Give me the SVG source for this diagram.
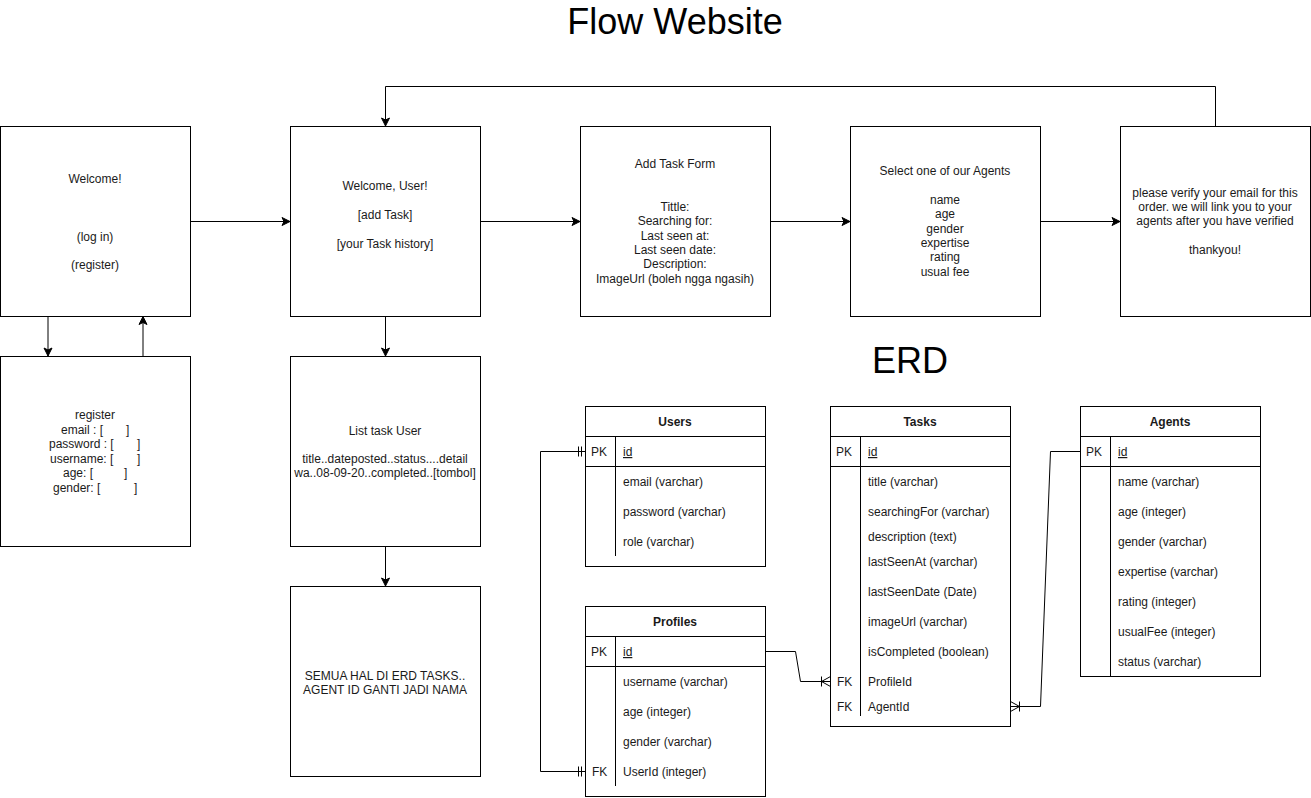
<svg xmlns="http://www.w3.org/2000/svg" width="1311" height="798" viewBox="0 0 1311 798">
<style>
text{font-family:"Liberation Sans",Arial,Helvetica,sans-serif;font-size:12px;fill:#1a1a1a}
.c{text-anchor:middle}
.t{font-size:36px;fill:#000}
.b{font-weight:bold}
.u{text-decoration:underline}
.box{fill:#fff;stroke:#000;stroke-width:1}
.ln{fill:none;stroke:#000;stroke-width:1}
.conn{fill:none;stroke:#000;stroke-width:1}
</style>
<defs>
<marker id="arr" markerUnits="userSpaceOnUse" markerWidth="12" markerHeight="12" viewBox="-10 -6 12 12" refX="0" refY="0" orient="auto">
<path d="M0,0 L-8,-4 L-6,0 L-8,4 Z" fill="#000" stroke="#000" stroke-width="1"/>
</marker>
<marker id="one" markerUnits="userSpaceOnUse" markerWidth="12" markerHeight="14" viewBox="-11 -7 12 14" refX="0" refY="0" orient="auto-start-reverse">
<path d="M-7,-5 L-7,5 M-4,-5 L-4,5" fill="none" stroke="#000" stroke-width="1"/>
</marker>
<marker id="many" markerUnits="userSpaceOnUse" markerWidth="14" markerHeight="14" viewBox="-12 -7 14 14" refX="0" refY="0" orient="auto">
<path d="M0,-5 L-9,0 L0,5 M-9,0 L0,0 M-9,-5 L-9,5" fill="none" stroke="#000" stroke-width="1"/>
</marker>
</defs>
<rect width="1311" height="798" fill="#fff"/>
<text class="t c" x="675" y="34">Flow Website</text>
<text class="t c" x="910" y="373">ERD</text>

<g id="connectors">
<path class="conn" d="M190.5,221.5 L290,221.5" marker-end="url(#arr)"/>
<path class="conn" d="M480.5,221.5 L580,221.5" marker-end="url(#arr)"/>
<path class="conn" d="M770.5,221.5 L850,221.5" marker-end="url(#arr)"/>
<path class="conn" d="M1040.5,221.5 L1120,221.5" marker-end="url(#arr)"/>
<path class="conn" d="M48,316.5 L48,356" marker-end="url(#arr)"/>
<path class="conn" d="M143,356.5 L143,316.5" marker-end="url(#arr)"/>
<path class="conn" d="M385.5,316.5 L385.5,356" marker-end="url(#arr)"/>
<path class="conn" d="M385.5,546.5 L385.5,586" marker-end="url(#arr)"/>
<path class="conn" d="M1215.5,126.5 L1215.5,86.5 L385.5,86.5 L385.5,126" marker-end="url(#arr)"/>
<path class="conn" d="M585.5,451.5 L540.5,451.5 L540.5,771.5 L585.5,771.5" marker-start="url(#one)" marker-end="url(#one)"/>
<path class="conn" d="M765.5,651.5 L795.5,651.5 L800.5,681.5 L830.5,681.5" marker-end="url(#many)"/>
<path class="conn" d="M1080.5,451.5 L1050.5,451.5 L1040.5,706.5 L1010.5,706.5" marker-end="url(#many)"/>
</g>

<g id="welcome">
<rect class="box" x="0.5" y="126.5" width="190" height="190"/>
<text class="c" x="95" y="183">Welcome!</text>
<text class="c" x="95" y="241">(log in)</text>
<text class="c" x="95" y="269">(register)</text>
</g>
<g id="welcome-user">
<rect class="box" x="290.5" y="126.5" width="190" height="190"/>
<text class="c" x="385" y="190">Welcome, User!</text>
<text class="c" x="385" y="219">[add Task]</text>
<text class="c" x="385" y="248">[your Task history]</text>
</g>
<g id="add-task-form">
<rect class="box" x="580.5" y="126.5" width="190" height="190"/>
<text class="c" x="675" y="168">Add Task Form</text>
<text class="c" x="675" y="211">Tittle:</text>
<text class="c" x="675" y="225">Searching for:</text>
<text class="c" x="675" y="240">Last seen at:</text>
<text class="c" x="675" y="254">Last seen date:</text>
<text class="c" x="675" y="268">Description:</text>
<text class="c" x="675" y="283">ImageUrl (boleh ngga ngasih)</text>
</g>
<g id="select-agent">
<rect class="box" x="850.5" y="126.5" width="190" height="190"/>
<text class="c" x="945" y="175">Select one of our Agents</text>
<text class="c" x="945" y="204">name</text>
<text class="c" x="945" y="218">age</text>
<text class="c" x="945" y="233">gender</text>
<text class="c" x="945" y="247">expertise</text>
<text class="c" x="945" y="261">rating</text>
<text class="c" x="945" y="276">usual fee</text>
</g>
<g id="verify">
<rect class="box" x="1120.5" y="126.5" width="190" height="190"/>
<text class="c" x="1215" y="197">please verify your email for this</text>
<text class="c" x="1215" y="211">order. we will link you to your</text>
<text class="c" x="1215" y="225">agents after you have verified</text>
<text class="c" x="1215" y="254">thankyou!</text>
</g>
<g id="register">
<rect class="box" x="0.5" y="356.5" width="190" height="190"/>
<text class="c" x="95" y="419">register</text>
<text x="61" y="434">email : [<tspan x="126">]</tspan></text>
<text x="49" y="448">password : [<tspan x="137">]</tspan></text>
<text x="50" y="463">username: [<tspan x="137">]</tspan></text>
<text x="63" y="477">age: [<tspan x="124">]</tspan></text>
<text x="53" y="492">gender: [<tspan x="134">]</tspan></text>
</g>
<g id="list-task">
<rect class="box" x="290.5" y="356.5" width="190" height="190"/>
<text class="c" x="385" y="435">List task User</text>
<text class="c" x="385" y="463">title..dateposted..status....detail</text>
<text class="c" x="385" y="477">wa..08-09-20..completed..[tombol]</text>
</g>
<g id="semua">
<rect class="box" x="290.5" y="586.5" width="190" height="190"/>
<text class="c" x="385" y="680">SEMUA HAL DI ERD TASKS..</text>
<text class="c" x="385" y="694">AGENT ID GANTI JADI NAMA</text>
</g>

<g id="users">
<rect class="box" x="585.5" y="406.5" width="180" height="160"/>
<path class="ln" d="M585.5,436.5 H765.5 M585.5,466.5 H765.5 M615.5,436.5 V556"/>
<text class="c b" x="675" y="426">Users</text>
<text x="591" y="456">PK</text>
<text class="u" x="623" y="456">id</text>
<text x="623" y="486">email (varchar)</text>
<text x="623" y="516">password (varchar)</text>
<text x="623" y="546">role (varchar)</text>
</g>
<g id="profiles">
<rect class="box" x="585.5" y="606.5" width="180" height="190"/>
<path class="ln" d="M585.5,636.5 H765.5 M585.5,666.5 H765.5 M615.5,636.5 V786"/>
<text class="c b" x="675" y="626">Profiles</text>
<text x="591" y="656">PK</text>
<text class="u" x="623" y="656">id</text>
<text x="623" y="686">username (varchar)</text>
<text x="623" y="716">age (integer)</text>
<text x="623" y="746">gender (varchar)</text>
<text x="592" y="776">FK</text>
<text x="623" y="776">UserId (integer)</text>
</g>
<g id="tasks">
<rect class="box" x="830.5" y="406.5" width="180" height="320"/>
<path class="ln" d="M830.5,436.5 H1010.5 M830.5,466.5 H1010.5 M860.5,436.5 V716"/>
<text class="c b" x="920" y="426">Tasks</text>
<text x="836" y="456">PK</text>
<text class="u" x="868" y="456">id</text>
<text x="868" y="486">title (varchar)</text>
<text x="868" y="516">searchingFor (varchar)</text>
<text x="868" y="541">description (text)</text>
<text x="868" y="566">lastSeenAt (varchar)</text>
<text x="868" y="596">lastSeenDate (Date)</text>
<text x="868" y="626">imageUrl (varchar)</text>
<text x="868" y="656">isCompleted (boolean)</text>
<text x="837" y="686">FK</text>
<text x="868" y="686">ProfileId</text>
<text x="837" y="711">FK</text>
<text x="868" y="711">AgentId</text>
</g>
<g id="agents">
<rect class="box" x="1080.5" y="406.5" width="180" height="270"/>
<path class="ln" d="M1080.5,436.5 H1260.5 M1080.5,466.5 H1260.5 M1110.5,436.5 V676.5"/>
<text class="c b" x="1170" y="426">Agents</text>
<text x="1086" y="456">PK</text>
<text class="u" x="1118" y="456">id</text>
<text x="1118" y="486">name (varchar)</text>
<text x="1118" y="516">age (integer)</text>
<text x="1118" y="546">gender (varchar)</text>
<text x="1118" y="576">expertise (varchar)</text>
<text x="1118" y="606">rating (integer)</text>
<text x="1118" y="636">usualFee (integer)</text>
<text x="1118" y="666">status (varchar)</text>
</g>
</svg>
